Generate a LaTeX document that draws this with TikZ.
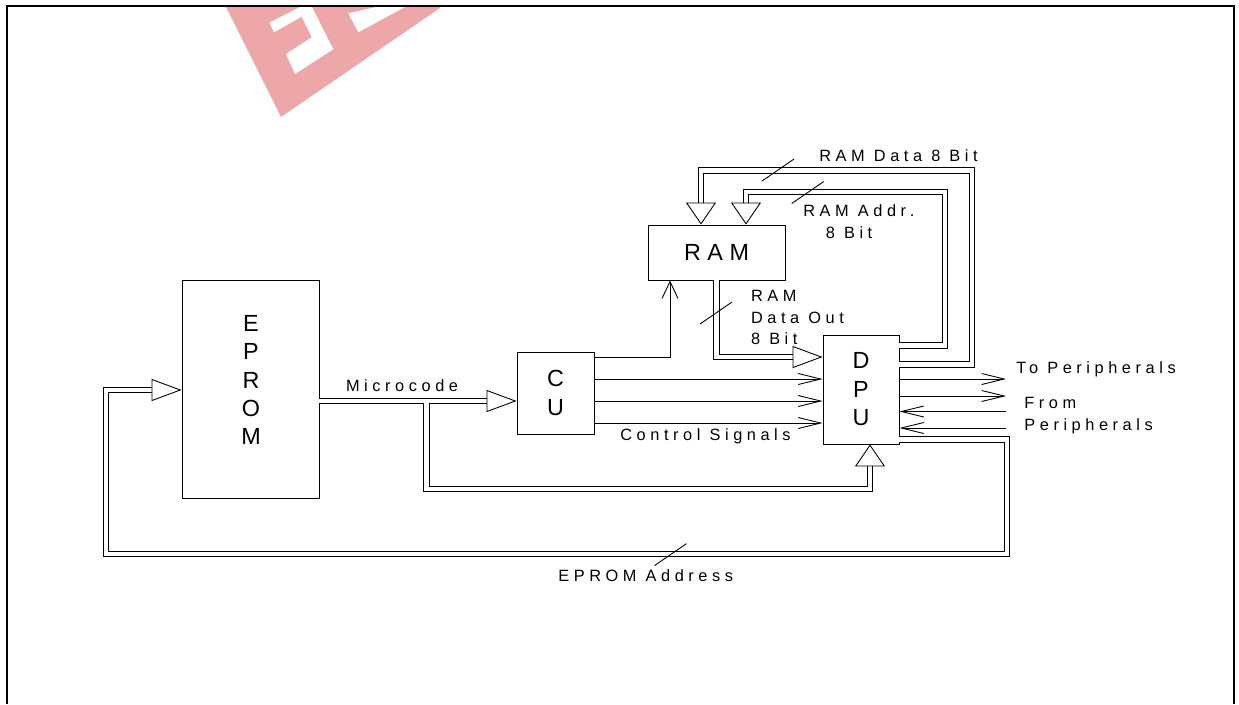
\documentclass[tikz,border=0pt]{standalone}
\usepackage{fontspec}
\usetikzlibrary{arrows.meta}
\newfontfamily\diagfont{Liberation Sans}[LetterSpace=28]
\newcommand\diagbig{\diagfont\fontsize{13.3}{16.2}\selectfont}
\newcommand\diagsmall{\diagfont\fontsize{9.3}{12.2}\selectfont}
\definecolor{wmark}{HTML}{EDA7A9}
\begin{document}
\begin{tikzpicture}[x=0.02cm,y=-0.02cm,
			box/.style={draw,rectangle,line width=0.5pt,inner sep=0pt,align=center,font=\diagbig},
			bus/.style={double,double distance=0.09cm,line width=0.5pt},
			hbus/.style={bus,-{Triangle[open,length=0.6cm,width=0.44cm,line width=0.5pt]}},
			vbus/.style={bus,-{Triangle[open,length=0.44cm,width=0.6cm,line width=0.5pt]}},
			sig/.style={line width=0.5pt,-{Straight Barb[length=0.45cm,width=0.22cm,line width=0.5pt]}},
			slash/.style={line width=0.5pt},
			lbl/.style={inner sep=0pt,anchor=west,align=left,font=\diagsmall}]
			\useasboundingbox (0,0) rectangle (1239,704);
			\fill[wmark] (226,7) -- (230,15) -- (281,117) -- (440,8) -- (440,7) -- cycle;
			\fill[white] (269.3,22.7) -- (300,7) -- (312,7) -- (333.3,49.3) -- (295,74) -- (286,54) -- (311.7,37.3) -- (301.7,16.7) -- (274,32.3) -- cycle;
			\fill[white] (348.3,13.3) -- (358.3,32.3) -- (405,7) -- (376,7) -- cycle;
			\draw[line width=1.1pt] (7,704) -- (7,6) -- (1234,6) -- (1234,704);

			\node (eprom) [box,minimum width=2.74cm,minimum height=4.36cm] at (250.5,389) {};
			\node (epromtxt) [font=\diagbig,align=center,inner sep=0pt] at (251,380) {E\\P\\R\\O\\M};
			\node (cu) [box,minimum width=1.54cm,minimum height=1.64cm] at (555.5,393) {C\\U};
			\node (dpu) [box,minimum width=1.52cm,minimum height=2.18cm] at (861,389.5) {D\\P\\U};
			\node (ram) [box,minimum width=2.74cm,minimum height=1.1cm] at (716.5,252.5) {RAM};

			\coordinate (split) at (426.5,401);
			\coordinate (periph) at (1006,400);
			\draw[hbus] (eprom.east |- split) -- (cu.west |- split);
			\draw[vbus] ([yshift=-0.045cm]split) -- (426.5,489) -- (870,489) -- (dpu.south -| 870,0);
			\draw[sig,-{Straight Barb[length=0.34cm,width=0.32cm,line width=0.5pt]}] (cu.east |- 0,357) -- (670,357) -- (ram.south -| 670,0);
			\foreach \y in {379,401,423}
				\draw[sig] (cu.east |- 0,\y) -- (dpu.west |- 0,\y);
			\draw[hbus] (ram.south) -- (716.5,357) -- (dpu.west |- 0,357);
			\draw[vbus] (dpu.east |- 0,345.5) -- (945,345.5) -- (945,192) -- (746,192) -- (ram.north -| 746,0);
			\draw[vbus] (dpu.east |- 0,364.5) -- (972,364.5) -- (972,170.5) -- (701,170.5) -- (ram.north -| 701,0);
			\foreach \y in {379,396}
				\draw[sig] (dpu.east |- 0,\y) -- (periph |- 0,\y);
			\foreach \y in {411.5,428}
				\draw[sig] (periph |- 0,\y) -- (dpu.east |- 0,\y);
			\draw[hbus] (dpu.east |- 0,439.5) -- (1007,439.5) -- (1007,554) -- (106,554) -- (106,390) -- (eprom.west |- 0,390);

			\coordinate (sdata) at (778,170);
			\coordinate (saddr) at (807.7,192.5);
			\coordinate (sout) at (716,313);
			\coordinate (seprom) at (670.5,554.6);
			\foreach \c in {sdata,saddr,sout,seprom}
				\draw[slash] ([shift={(-16,11)}]\c) -- ([shift={(16,-11)}]\c);

			\node (microlbl) [lbl] at (345.7,385.7) {Microcode};
			\node (ctrllbl) [lbl] at (620,436) {Control Signals};
			\node (datalbl) [lbl] at (819,156) {RAM Data 8 Bit};
			\node (addrlbl) [lbl] at (803,221.8) {RAM Addr.\\\hspace*{0.45cm}8 Bit};
			\node (outlbl) [lbl] at (750.7,317.5) {RAM\\Data Out\\8 Bit};
			\node (tolbl) [lbl] at (1016,369.3) {To Peripherals};
			\node (fromlbl) [lbl] at (1024,415.5) {From\\Peripherals};
			\node (epaddrlbl) [lbl] at (558,576) {EPROM Address};
		\end{tikzpicture}
\end{document}
